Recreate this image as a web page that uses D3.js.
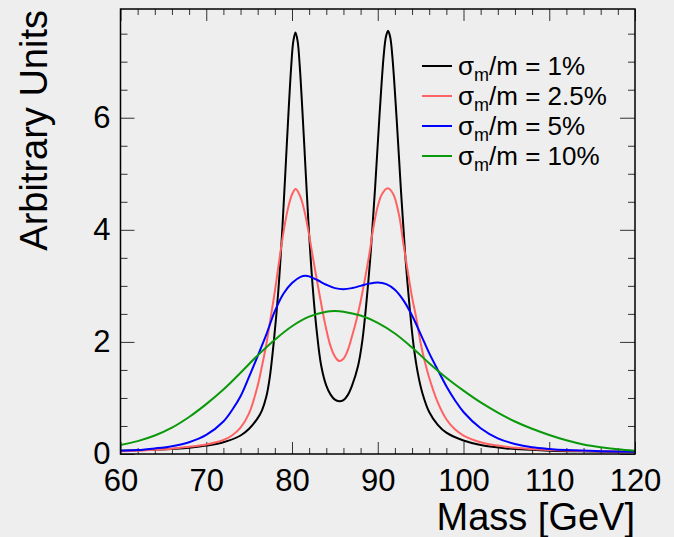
<!DOCTYPE html>
<html>
<head>
<meta charset="utf-8">
<script src="https://d3js.org/d3.v7.min.js"></script>
<style>
body { margin: 0; background: #eeeeee; }
text { font-family: "Liberation Sans", Arial, Helvetica, sans-serif; fill: #000; }
</style>
</head>
<body>
<script>
// values
var blackMass = [60,62,64,66,68,70,72,74,75,76,76.5,77,77.4,77.9,78.4,78.9,79.4,79.9,80.15,80.4,80.65,80.9,81.4,81.9,82.4,82.9,83.4,84,84.5,85,85.5,86,86.5,87,87.7,88.2,88.7,89.2,89.7,90.2,90.7,90.95,91.2,91.45,91.7,92.2,92.7,93.2,93.7,94.2,94.7,95.2,96,97,98,100,102,105,110,115,120];
var blackVal  = [0.06,0.065,0.075,0.09,0.11,0.15,0.21,0.33,0.45,0.64,0.78,1.02,1.36,2.04,2.90,4.09,5.54,6.90,7.36,7.52,7.37,6.93,5.60,4.17,3.01,2.17,1.58,1.22,1.06,0.97,0.94,0.96,1.05,1.22,1.57,2.02,2.74,3.64,4.77,6.03,7.12,7.44,7.55,7.44,7.10,5.99,4.72,3.56,2.65,1.91,1.42,1.09,0.75,0.52,0.38,0.24,0.16,0.10,0.06,0.045,0.035];

var redMass = [60,62,64,66,68,70,72,73,74,75,76,76.5,77,77.5,78,78.5,79,79.5,80,80.43,81,81.5,82,82.5,83,83.5,84,84.5,85,85.5,86,86.5,87,87.5,88,88.5,89,89.5,90,90.5,91.16,91.8,92.5,93,93.5,94,94.5,95,95.5,96,97,98,99,100,102,104,106,110,115,120];
var redVal  = [0.05,0.06,0.075,0.095,0.13,0.17,0.25,0.33,0.47,0.73,1.22,1.57,1.95,2.42,2.90,3.44,3.95,4.36,4.63,4.73,4.58,4.30,3.90,3.45,3.02,2.60,2.22,1.92,1.74,1.66,1.70,1.85,2.10,2.38,2.72,3.12,3.55,4.05,4.42,4.64,4.74,4.64,4.25,3.74,3.26,2.80,2.42,1.98,1.64,1.36,0.92,0.62,0.44,0.33,0.21,0.15,0.11,0.07,0.05,0.04];

var blueMass = [60,62,64,66,68,70,72,73,74,75,76,77,78,79,80,81,81.6,82,83,84,85,86,87,88,89,90,91,92,93,94,95,96,97,98,99,100,102,104,106,108,110,112,116,120];
var blueVal  = [0.06,0.07,0.10,0.14,0.21,0.34,0.58,0.78,1.03,1.38,1.75,2.13,2.55,2.86,3.05,3.16,3.18,3.17,3.10,3.02,2.96,2.94,2.96,3.00,3.04,3.06,3.03,2.93,2.74,2.47,2.14,1.80,1.50,1.21,0.96,0.75,0.46,0.28,0.18,0.12,0.09,0.07,0.05,0.04];

var greenMass = [60,62,64,66,68,70,72,74,76,78,80,82,84,85,86,88,90,92,94,96,98,100,102,104,106,108,110,112,114,116,118,120];
var greenVal  = [0.16,0.23,0.33,0.47,0.66,0.89,1.15,1.45,1.76,2.04,2.28,2.45,2.54,2.55,2.54,2.47,2.34,2.15,1.90,1.62,1.36,1.13,0.92,0.74,0.58,0.45,0.34,0.245,0.17,0.12,0.085,0.06];

var legendLabels = ["1%", "2.5%", "5%", "10%"];
var lineColors = ["#000000", "#ff6262", "#0000ff", "#0a990a"];

var xMajor = [60,70,80,90,100,110,120];
var yMajor = [0,2,4,6];

var width = 674, height = 537;
var plotL = 120.5, plotR = 635, plotT = 9, plotB = 454;

var svg = d3.select("body")
			.append("svg")
			.attr("width", width)
			.attr("height", height);

var x = d3.scaleLinear().domain([60,120]).range([plotL, plotR]);
var y = d3.scaleLinear().domain([0,7.94]).range([plotB, plotT]);

var xMinor = d3.range(60, 121, 2).filter(function(d) { return d % 10 != 0; });
var yMinor = d3.range(0, 7.9, 0.5).filter(function(d) { return d % 2 != 0; });

// axes with ticks pointing inwards
function styleAxis(g) {
	g.select(".domain").remove();
	g.selectAll("line").attr("stroke", "#333").attr("stroke-width", 1);
}

svg.append("g")
	.attr("transform", "translate(0," + plotB + ")")
	.call(d3.axisBottom(x).tickValues(xMajor).tickSize(-12).tickPadding(15).tickFormat(d3.format("d")))
	.call(styleAxis)
	.selectAll("text").attr("font-size", 31).attr("font-family", "Liberation Sans, Arial, sans-serif");
svg.append("g")
	.attr("transform", "translate(0," + plotB + ")")
	.call(d3.axisBottom(x).tickValues(xMinor).tickSize(-6).tickFormat(""))
	.call(styleAxis);
svg.append("g")
	.attr("transform", "translate(0," + plotT + ")")
	.call(d3.axisTop(x).tickValues(xMajor).tickSize(-12).tickFormat(""))
	.call(styleAxis);
svg.append("g")
	.attr("transform", "translate(0," + plotT + ")")
	.call(d3.axisTop(x).tickValues(xMinor).tickSize(-6).tickFormat(""))
	.call(styleAxis);

svg.append("g")
	.attr("transform", "translate(" + plotL + ",0)")
	.call(d3.axisLeft(y).tickValues(yMajor).tickSize(-14).tickPadding(10).tickFormat(d3.format("d")))
	.call(styleAxis)
	.selectAll("text").attr("font-size", 31).attr("font-family", "Liberation Sans, Arial, sans-serif");
svg.append("g")
	.attr("transform", "translate(" + plotL + ",0)")
	.call(d3.axisLeft(y).tickValues(yMinor).tickSize(-7).tickFormat(""))
	.call(styleAxis);
svg.append("g")
	.attr("transform", "translate(" + plotR + ",0)")
	.call(d3.axisRight(y).tickValues(yMajor).tickSize(-15).tickFormat(""))
	.call(styleAxis);
svg.append("g")
	.attr("transform", "translate(" + plotR + ",0)")
	.call(d3.axisRight(y).tickValues(yMinor).tickSize(-7).tickFormat(""))
	.call(styleAxis);

svg.append("clipPath")
	.attr("id", "frameClip")
	.append("rect")
		.attr("x", plotL).attr("y", plotT)
		.attr("width", plotR - plotL).attr("height", plotB - plotT);

var series = [
	{mass: blackMass, val: blackVal},
	{mass: redMass, val: redVal},
	{mass: blueMass, val: blueVal},
	{mass: greenMass, val: greenVal}
];

var line = d3.line()
	.x(function(d) { return x(d[0]); })
	.y(function(d) { return y(d[1]); })
	.curve(d3.curveCatmullRom.alpha(0.5));

svg.append("g")
	.attr("clip-path", "url(#frameClip)")
	.selectAll("path")
	.data(series)
	.enter()
	.append("path")
		.attr("d", function(s) { return line(s.mass.map(function(m, i) { return [m, s.val[i]]; })); })
		.attr("fill", "none")
		.attr("stroke", function(s, i) { return lineColors[i]; })
		.attr("stroke-width", 2);

// frame
svg.append("rect")
	.attr("x", plotL).attr("y", plotT)
	.attr("width", plotR - plotL).attr("height", plotB - plotT)
	.attr("fill", "none")
	.attr("stroke", "#000")
	.attr("stroke-width", 1.5);

// legend
var legend = svg.append("g");
legendLabels.forEach(function(lab, i) {
	var ly = 66 + i * 30;
	legend.append("line")
		.attr("x1", 422).attr("x2", 452)
		.attr("y1", ly).attr("y2", ly)
		.attr("stroke", lineColors[i])
		.attr("stroke-width", 2);
	var t = legend.append("text")
		.attr("x", 458)
		.attr("y", ly + 9)
		.attr("font-size", 26);
	t.append("tspan").text("σ");
	t.append("tspan").attr("font-size", 18).attr("dy", 6).text("m");
	t.append("tspan").attr("dy", -6).text("/m = " + lab);
});

// axis titles
svg.append("text")
	.attr("transform", "translate(47,10) rotate(-90)")
	.style("text-anchor", "end")
	.attr("font-size", 38)
	.text("Arbitrary Units");

svg.append("text")
	.attr("x", plotR)
	.attr("y", 530)
	.style("text-anchor", "end")
	.attr("font-size", 38)
	.text("Mass [GeV]");
</script>
</body>
</html>
